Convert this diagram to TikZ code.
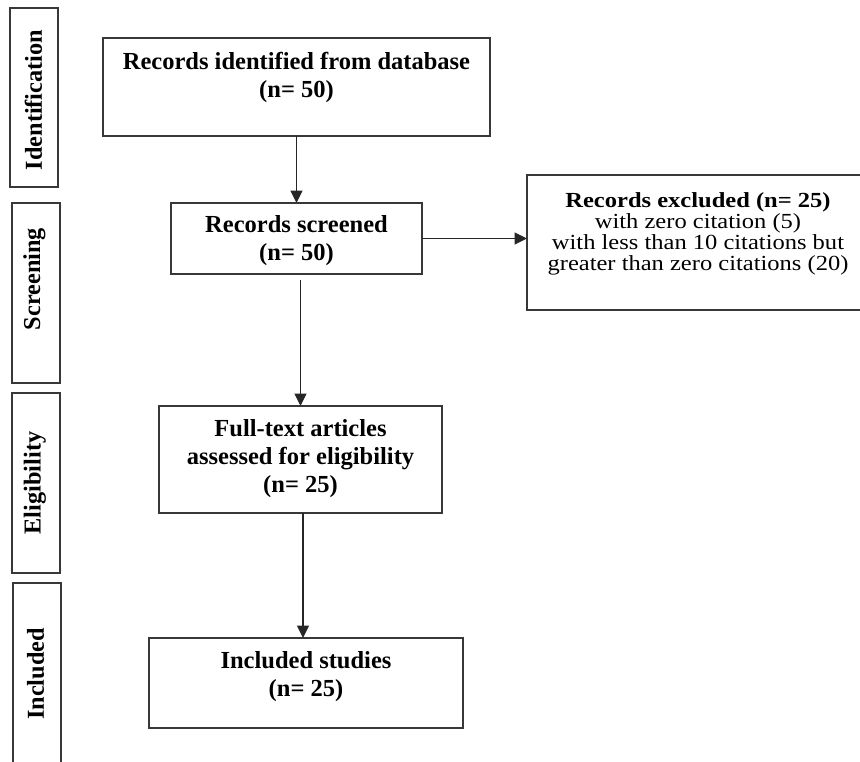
\documentclass[tikz,border=0pt]{standalone}
\usepackage{fontspec}
\setmainfont{Liberation Serif}
\newfontfamily\widefont[FakeStretch=1.14]{Liberation Serif}
\usetikzlibrary{arrows.meta}
\tikzset{
  frame/.style={draw=black!78, line width=1.2pt, inner sep=0pt, outer sep=0pt, rectangle},
  bigtext/.style={inner sep=0pt, align=center, font=\fontsize{24.5}{28}\selectfont\bfseries},
  smalltext/.style={inner sep=0pt, align=center, font=\widefont\fontsize{21.5}{21}\selectfont},
  sidetext/.style={inner sep=0pt, rotate=90, font=\fontsize{24.3}{28}\selectfont\bfseries},
  arr/.style={draw=black!85, line width=1.2pt, -{Triangle[length=12.5pt,width=12pt]}}
}
\begin{document}
\begin{tikzpicture}[x=1pt,y=-1pt]
\useasboundingbox[fill=white] (0,0) rectangle (860,761);
% side labels
\node[frame, minimum width=48pt, minimum height=179pt] (sid) at (34,97.5) {};
\node[sidetext] (lid) at (33.5,100) {Identification};
\node[frame, minimum width=48pt, minimum height=180pt] (ssc) at (36,293) {};
\node[sidetext] (lsc) at (34.5,279) {Screening};
\node[frame, minimum width=48pt, minimum height=180pt] (sel) at (36,483) {};
\node[sidetext] (lel) at (35,483) {Eligibility};
\node[frame, minimum width=48pt, minimum height=187pt] (sin) at (37,676.5) {};
\node[sidetext] (lin) at (35.5,674) {Included};
% main boxes
\node[frame, minimum width=387pt, minimum height=98pt] (b1) at (296.5,87) {};
\node[bigtext] (t1) at (296.5,77.5) {Records identified from database\\(n= 50)};
\node[frame, minimum width=251pt, minimum height=71pt] (b2) at (296.5,238.5) {};
\node[bigtext] (t2) at (296.5,241) {Records screened\\(n= 50)};
\node[frame, minimum width=341pt, minimum height=135pt] (b3) at (697.5,242.5) {};
\node[smalltext] (t3) at (698,234) {{\bfseries Records excluded (n= 25)}\\with zero citation (5)\\with less than 10 citations but\\greater than zero citations (20)};
\node[frame, minimum width=283pt, minimum height=107pt] (b4) at (300.5,459.5) {};
\node[bigtext] (t4) at (300.5,459) {Full-text articles\\assessed for eligibility\\(n= 25)};
\node[frame, minimum width=314pt, minimum height=90pt] (b5) at (306,683) {};
\node[bigtext] (t5) at (306,677) {Included studies\\(n= 25)};
% connectors
\draw[arr] (b1.south) -- (b2.north);
\draw[arr] (b2.east) -- (b2.east -| b3.west);
\coordinate (c2) at ([yshift=-6pt]b2.south);
\draw[arr] (c2 -| b4.north) -- (b4.north);
\coordinate (c4) at ([xshift=2.5pt]b4.south);
\draw[arr] (c4) -- (c4 |- b5.north);
\end{tikzpicture}
\end{document}
